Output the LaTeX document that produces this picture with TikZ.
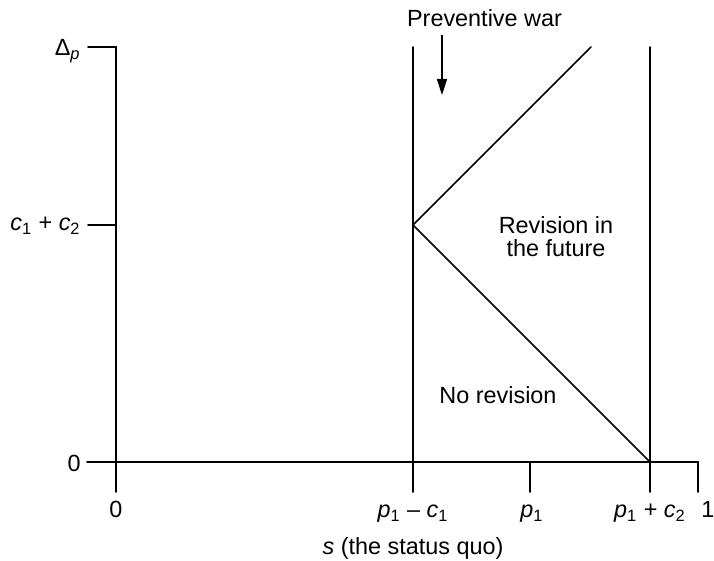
\documentclass[tikz,border=0pt]{standalone}
\usepackage{fontspec}
\setmainfont{Liberation Sans}
\usetikzlibrary{arrows.meta,calc}
\usepackage{tkz-euclide}
\newcommand{\pOne}{\textit{p}\textsubscript{1}}
\newcommand{\cOne}{\textit{c}\textsubscript{1}}
\newcommand{\cTwo}{\textit{c}\textsubscript{2}}
\tikzset{lbl/.style={inner sep=0pt,anchor=base},
  lbleast/.style={inner sep=0pt,anchor=base east}}

\begin{document}
\begin{tikzpicture}[x=5pt,y=5pt,font=\fontsize{11.7}{14}\selectfont]
\tkzSetUpLine[line width=0.8pt,color=black]
\useasboundingbox (-11.6,-9.9) rectangle (59.8,46.2);

\tkzDefPoints{0/0/O,-2.9/0/L,58.2/0/R,58.2/-3/Rb,0/-3/Ob,0/41.5/Ot}
\tkzDefPoints{-2.8/41.5/Dt,-2.8/23.7/Ct,0/23.7/C}
\tkzDefPoints{29.7/-3/Ab,29.7/41.5/At,29.7/23.7/K,47.5/41.5/U}
\tkzDefPoints{53.4/-3/Bb,53.4/41.5/Bt,53.4/0/Z,41.4/0/P,41.4/-3/Pb}
\tkzDefPoints{32.6/42.7/Wt,32.6/36.7/Wb}

% axes
\tkzDrawPolySeg(Dt,Ot,Ob)
\tkzDrawPolySeg(L,R,Rb)
\tkzDrawSegments(Ct,C P,Pb)

% boundaries
\tkzDrawSegments(Ab,At Bb,Bt K,U K,Z)
\draw[line width=0.8pt,-{Triangle[length=8pt,width=5pt]}] (Wt) -- (Wb);

% labels
\node[lbleast] (ldp) at (-3.5,40.65) {Δ\textsubscript{\textit{p}}};
\node[lbleast] (lcc) at (-3.5,23.1) {\cOne\ + \cTwo};
\node[lbleast] (lz) at (-3.5,-0.95) {0};
\node[lbl] (bz) at (0,-5.6) {0};
\node[lbl] (bpc) at (29.7,-5.6) {\pOne\ – \cOne};
\node[lbl] (bp) at (41.6,-5.6) {\pOne};
\node[lbl] (bpc2) at (53.4,-5.6) {\pOne\ + \cTwo};
\node[lbl] (bone) at (59.2,-5.6) {1};
\node[lbl] (sq) at (29.7,-9.3) {\textit{s} (the status quo)};
\node[lbl] (pw) at (36.85,43.55) {Preventive war};
\node[inner sep=0pt,align=center,font=\fontsize{11.7}{11.5}\selectfont] (rf) at (44,22.5) {Revision in\\the future};
\node[lbl] (nr) at (38.2,5.85) {No revision};
\end{tikzpicture}
\end{document}
